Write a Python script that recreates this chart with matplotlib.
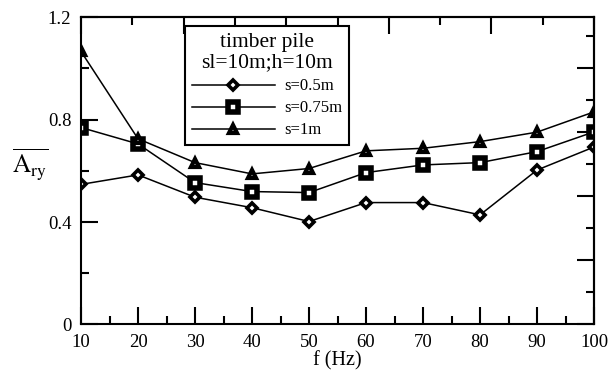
import matplotlib
matplotlib.use("Agg")
import matplotlib.pyplot as plt
from matplotlib.ticker import MultipleLocator, FixedLocator, NullFormatter

plt.rcParams['font.family'] = ['Liberation Serif', 'DejaVu Serif']
plt.rcParams['mathtext.fontset'] = 'stix'

freq = [10, 20, 30, 40, 50, 60, 70, 80, 90, 100]
s_050 = [0.547, 0.584, 0.497, 0.456, 0.402, 0.476, 0.476, 0.428, 0.603, 0.693]
s_075 = [0.769, 0.705, 0.554, 0.519, 0.515, 0.593, 0.623, 0.632, 0.675, 0.752]
s_100 = [1.066, 0.725, 0.632, 0.588, 0.609, 0.678, 0.688, 0.714, 0.751, 0.830]
labels = ['s=0.5m', 's=0.75m', 's=1m']

fig = plt.figure(figsize=(6.11, 3.79), dpi=100)
ax = fig.add_axes([0.1326, 0.1438, 0.8396, 0.811])

ax.plot(freq, s_050, color='black', lw=1.1, marker='D', ms=4.6, mfc='white',
        mec='black', mew=2.6, label=labels[0])
ax.plot(freq, s_075, color='black', lw=1.1, marker='s', ms=6.5, mfc='white',
        mec='black', mew=4.0, label=labels[1])
ax.plot(freq, s_100, color='black', lw=1.1, marker='^', ms=6.2, mfc='white',
        mec='black', mew=3.0, label=labels[2])

ax.set_xlim(10, 100)
ax.set_ylim(0, 1.2)
ax.xaxis.set_major_locator(MultipleLocator(10))
ax.xaxis.set_minor_locator(MultipleLocator(5))
ax.set_yticks([0, 0.4, 0.8, 1.2])
ax.set_yticklabels(['0', '0.4', '0.8', '1.2'])
ax.yaxis.set_minor_locator(FixedLocator([0.2, 0.6, 1.0]))
ax.tick_params(which='both', direction='in', top=False, right=False, width=1.5,
               labelsize=13.5, colors='black')
ax.tick_params(which='major', length=12.5, pad=7)
ax.tick_params(which='minor', length=6)
for sp in ax.spines.values():
    sp.set_linewidth(1.5)

# top and right frames carry their own tick spacing
top = ax.secondary_xaxis('top')
top.xaxis.set_major_locator(FixedLocator([10, 28, 46, 64, 82, 100]))
top.xaxis.set_minor_locator(FixedLocator([19, 37, 55, 73, 91]))
top.xaxis.set_major_formatter(NullFormatter())
top.tick_params(which='both', direction='in', width=1.5)
top.tick_params(which='major', length=12.5)
top.tick_params(which='minor', length=6)
top.spines['top'].set_linewidth(1.5)

right = ax.secondary_yaxis('right')
right.yaxis.set_major_locator(FixedLocator([0, 0.25, 0.5, 0.75, 1.0]))
right.yaxis.set_minor_locator(FixedLocator([0.125, 0.375, 0.625, 0.875, 1.125]))
right.yaxis.set_major_formatter(NullFormatter())
right.tick_params(which='both', direction='in', width=1.5)
right.tick_params(which='major', length=12.5)
right.tick_params(which='minor', length=6)
right.spines['right'].set_linewidth(1.5)

ax.set_xlabel('f (Hz)', fontsize=14.5, labelpad=0)
ax.set_ylabel(r'$\overline{\mathrm{A_{ry}}}$', fontsize=18, rotation=0,
              ha='center', va='center')
ax.yaxis.set_label_coords(-0.1, 0.52)

leg = ax.legend(title='timber pile\nsl=10m;h=10m', loc='upper left',
                bbox_to_anchor=(0.203, 0.97), borderaxespad=0, fontsize=12,
                title_fontsize=15.5, frameon=True, fancybox=False,
                edgecolor='black', handlelength=5.0, borderpad=0.4,
                labelspacing=0.36, handletextpad=0.55, framealpha=1)
leg.get_frame().set_linewidth(1.5)
leg.get_title().set_multialignment('center')
leg.get_title().set_linespacing(1.1)

fig.savefig('out.png', dpi=100)
